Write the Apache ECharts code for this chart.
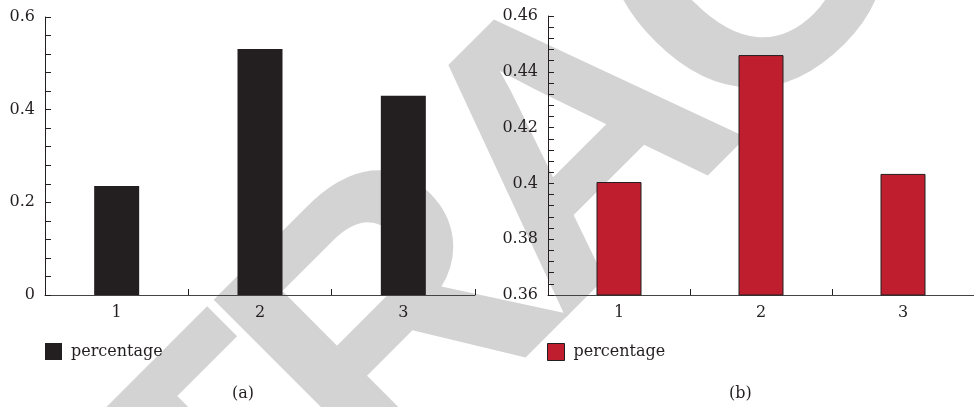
<!DOCTYPE html>
<html>
<head>
<meta charset="utf-8">
<script src="https://cdn.jsdelivr.net/npm/echarts@6/dist/echarts.min.js"></script>
<style>
  html, body { margin: 0; padding: 0; background: #fff; }
  #chart { width: 974px; height: 407px; }
</style>
</head>
<body>
<div id="chart"></div>
<script>
// data
const categories = ['1', '2', '3'];
const valuesA = [0.235, 0.531, 0.43];
const valuesB = [0.4005, 0.446, 0.4034];
const seriesName = 'percentage';
const captions = ['(a)', '(b)'];

document.addEventListener('DOMContentLoaded', function() {
	const chart = echarts.init(document.getElementById('chart'));
	const font = 'DejaVu Serif';
	const ink = '#231f20';
	const red = '#be1e2d';
	const axisColor = '#444';

	function xAxisFor(gridIndex) {
		return {
			type: 'category',
			gridIndex: gridIndex,
			data: categories,
			axisLine: { lineStyle: { color: axisColor, width: 1 } },
			axisTick: { show: true, inside: true, length: 6, lineStyle: { color: ink } },
			axisLabel: { color: ink, fontFamily: font, fontSize: 16, margin: 10 },
			splitLine: { show: false }
		};
	}
	function yAxisFor(gridIndex, min, max, interval) {
		return {
			type: 'value',
			gridIndex: gridIndex,
			min: min, max: max, interval: interval,
			axisLine: { show: true, lineStyle: { color: ink, width: 1 } },
			axisTick: { show: true, inside: true, length: 6, lineStyle: { color: ink } },
			minorTick: { show: true, splitNumber: 5, length: 6, lineStyle: { color: ink } },
			axisLabel: {
				color: ink, fontFamily: font, fontSize: 16, margin: 10,
				formatter: function(v) { return String(+v.toFixed(2)); }
			},
			splitLine: { show: false }
		};
	}

	// watermark letters, packed a bit tighter than the font's own advance
	const wmText = 'RETRACTED';
	const wmWidths = [0.722, 0.667, 0.611, 0.722, 0.722, 0.722, 0.611, 0.667, 0.722];
	const wmSize = 380, wmPack = 0.92;
	const wmCenter = 3.083;
	const wmLetters = [];
	let cum = 0;
	for (let i = 0; i < wmText.length; i++) {
		wmLetters.push({
			type: 'text', silent: true,
			x: (cum + wmWidths[i] / 2 - wmCenter) * wmSize * wmPack, y: 0,
			style: {
				text: wmText[i], fill: '#d3d3d3',
				font: 'bold ' + wmSize + 'px "Liberation Sans"',
				textAlign: 'center', textVerticalAlign: 'middle'
			}
		});
		cum += wmWidths[i];
	}

	const option = {
		animation: false,
		backgroundColor: '#fff',
		grid: [
			{ left: 45, top: 17, width: 430, height: 278 },
			{ left: 548, top: 16, width: 429, height: 279 }
		],
		xAxis: [xAxisFor(0), xAxisFor(1)],
		yAxis: [yAxisFor(0, 0, 0.6, 0.2), yAxisFor(1, 0.36, 0.46, 0.02)],
		legend: [
			{
				left: 40, top: 338, itemWidth: 17, itemHeight: 17, itemGap: 10,
				icon: 'rect',
				textStyle: { color: ink, fontFamily: font, fontSize: 16, padding: [0, 0, 0, 4] },
				data: [{ name: seriesName, itemStyle: { color: ink } }]
			},
			{
				left: 542, top: 338, itemWidth: 17, itemHeight: 17, itemGap: 10,
				icon: 'rect',
				textStyle: { color: ink, fontFamily: font, fontSize: 16, padding: [0, 0, 0, 4] },
				data: [{ name: seriesName, itemStyle: { color: red, borderColor: ink, borderWidth: 1 } }]
			}
		],
		graphic: [
			{
				type: 'group', z: -10, silent: true,
				x: 582, y: 153, rotation: Math.PI / 4,
				children: wmLetters
			},
			{
				type: 'text', left: 232, top: 386,
				style: { text: captions[0], fill: ink, font: '16px "DejaVu Serif"' }
			},
			{
				type: 'text', left: 729, top: 386,
				style: { text: captions[1], fill: ink, font: '16px "DejaVu Serif"' }
			}
		],
		series: [
			{
				name: seriesName, type: 'bar', xAxisIndex: 0, yAxisIndex: 0,
				barWidth: 45, itemStyle: { color: ink },
				data: valuesA
			},
			{
				name: seriesName, type: 'bar', xAxisIndex: 1, yAxisIndex: 1,
				barWidth: 45, itemStyle: { color: red, borderColor: ink, borderWidth: 1 },
				data: valuesB
			}
		]
	};
	chart.setOption(option);
	window.addEventListener('resize', function() { chart.resize(); });
});
</script>
</body>
</html>
